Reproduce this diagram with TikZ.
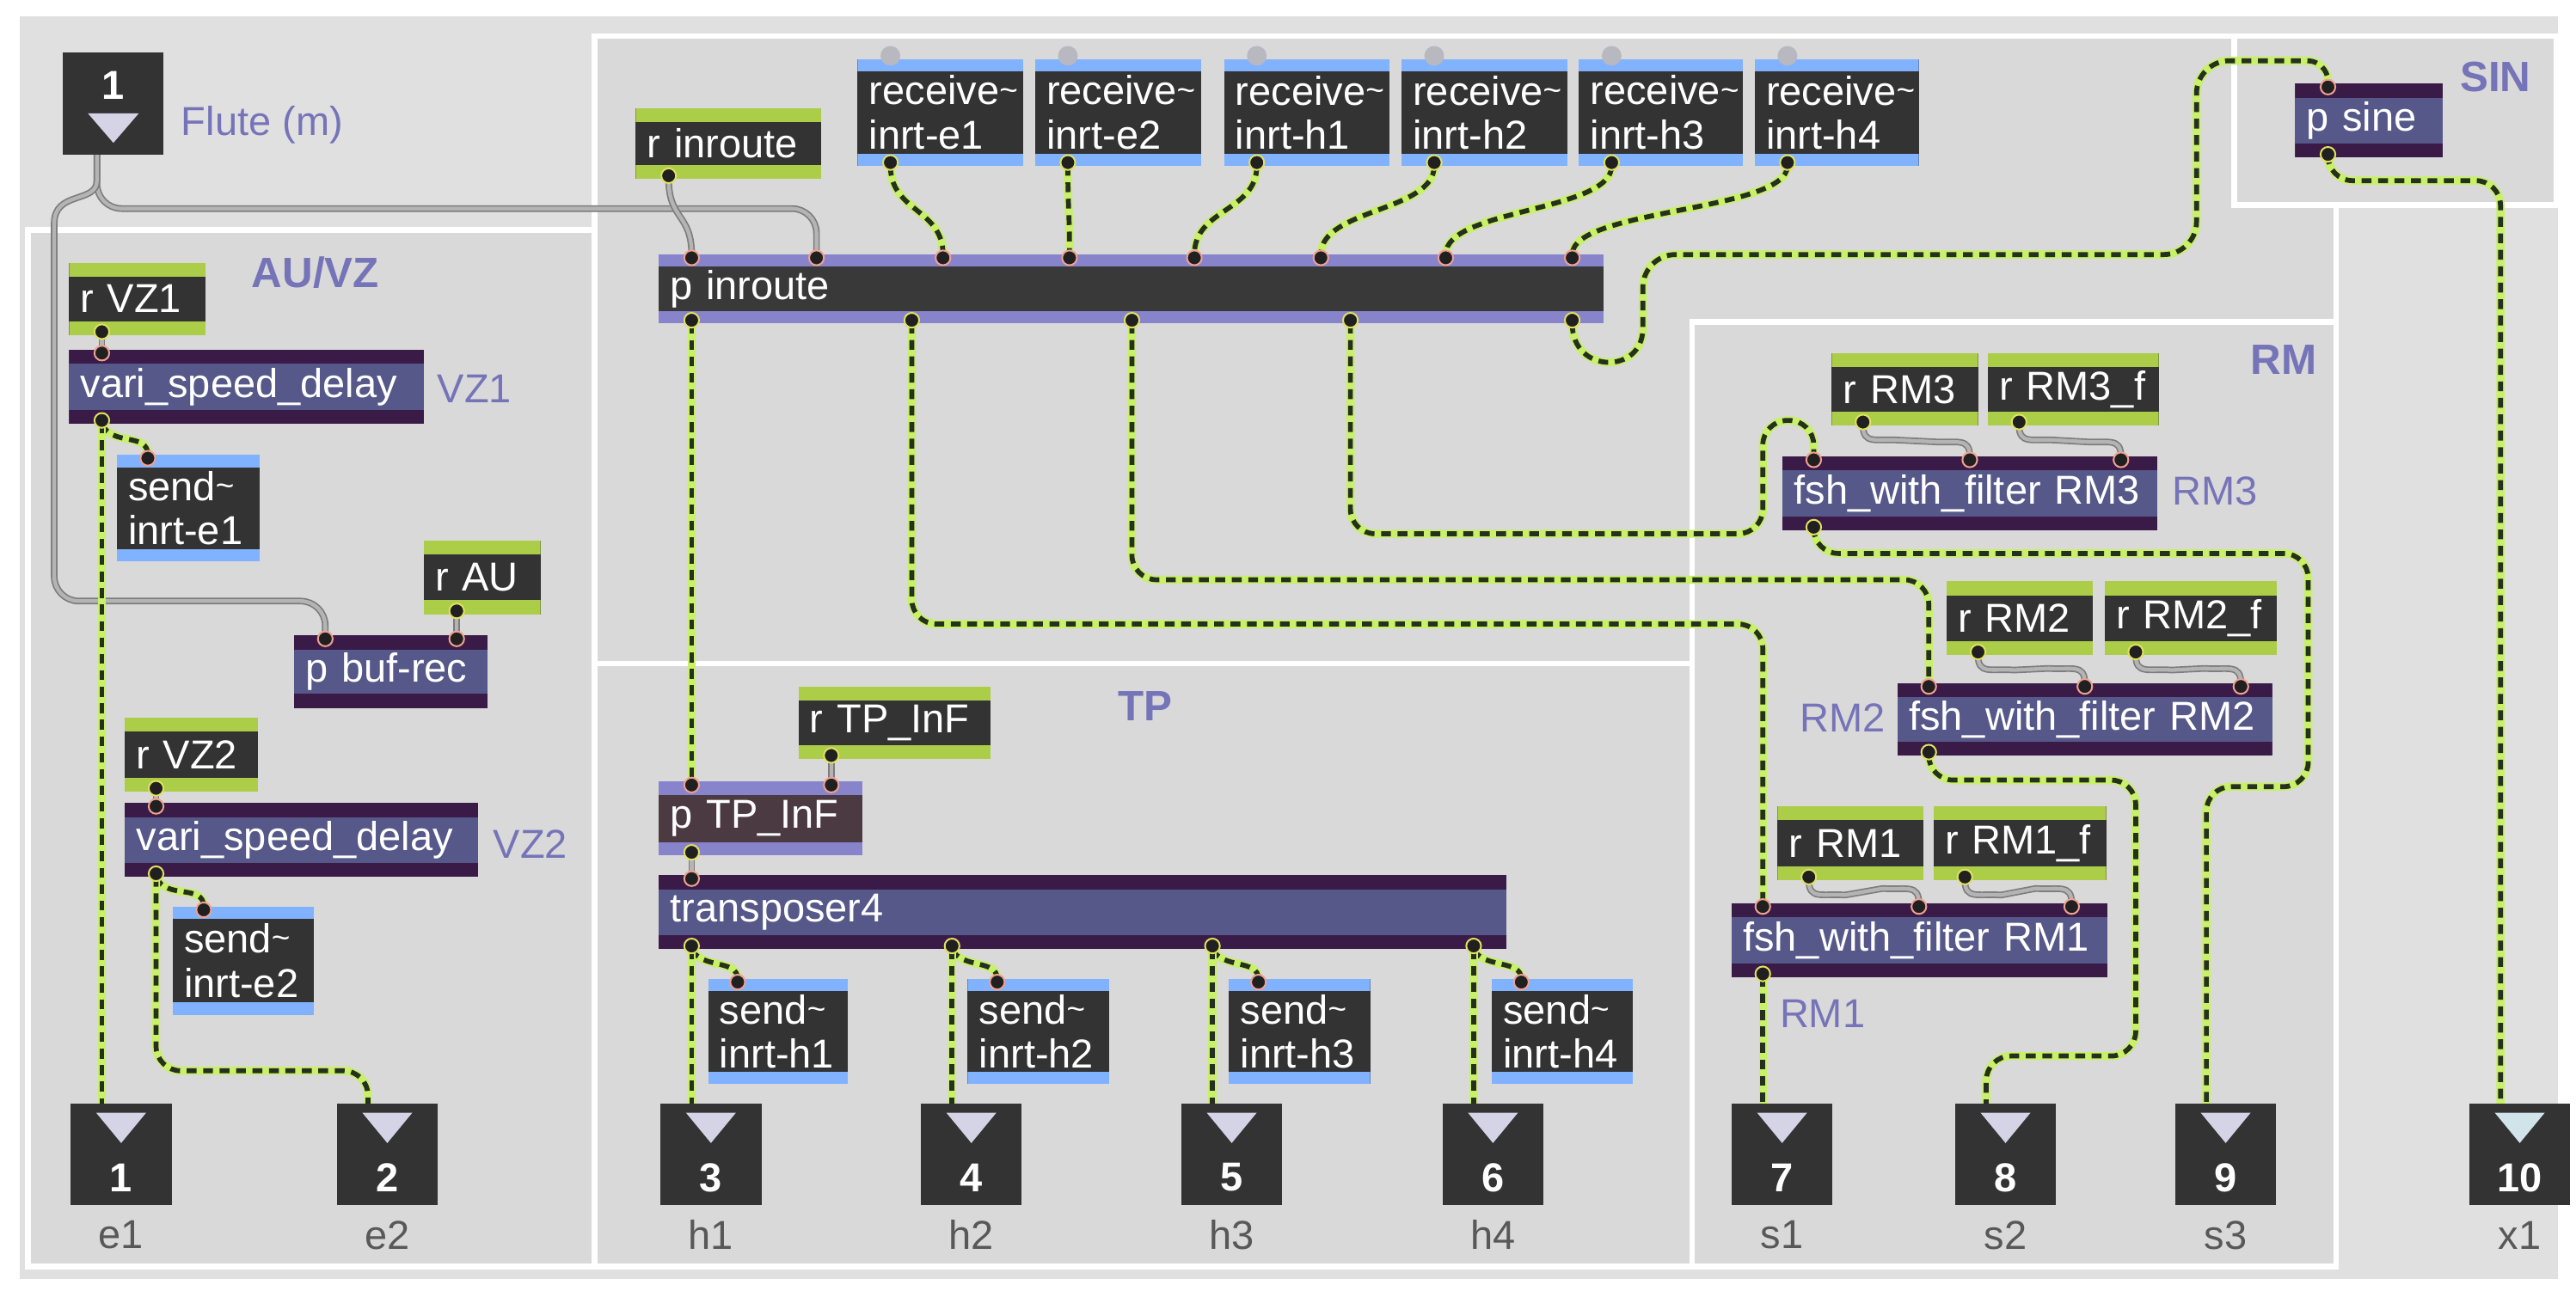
\documentclass[tikz,border=0pt]{standalone}
\usepackage{fontspec}
\setmainfont{Liberation Sans}
\usetikzlibrary{calc}
\pgfdeclarelayer{panels}
\pgfdeclarelayer{cords}
\pgfsetlayers{panels,cords,main}
\definecolor{bgout}{HTML}{E0E0E0}
\definecolor{bgpan}{HTML}{D9D9D9}
\definecolor{objdark}{HTML}{333333}
\definecolor{rgreen}{HTML}{ABCD48}
\definecolor{sblue}{HTML}{80B2FF}
\definecolor{aband}{HTML}{3A1B48}
\definecolor{abody}{HTML}{555888}
\definecolor{pband}{HTML}{8884CC}
\definecolor{pbody}{HTML}{393939}
\definecolor{tpbody}{HTML}{4B3A42}
\definecolor{cmt}{HTML}{7674B8}
\definecolor{lbl}{HTML}{585858}
\definecolor{tri}{HTML}{D4D4E6}
\definecolor{tric}{HTML}{D0E4EA}
\definecolor{sgreen}{HTML}{C8F068}
\definecolor{sdark}{HTML}{26301E}
\definecolor{mgray}{HTML}{B4B4B4}
\definecolor{mgrayd}{HTML}{7C7C7C}
\definecolor{inl}{HTML}{F0A090}
\definecolor{outl}{HTML}{E0E060}
\definecolor{portd}{HTML}{202020}
\definecolor{grayin}{HTML}{B8B8C0}
\tikzset{
 bands/.style 2 args={path picture={
   \fill[#1] (path picture bounding box.north west) rectangle ([yshift=-#2]path picture bounding box.north east);
   \fill[#1] (path picture bounding box.south west) rectangle ([yshift=#2]path picture bounding box.south east);}},
 obj/.style={rectangle, inner xsep=0.14cm, inner ysep=0pt, outer sep=0pt, text=white, align=left},
 rmsg/.style={obj, fill=objdark, bands={rgreen}{0.17cm}},
 sigobj/.style={obj, fill=objdark, bands={sblue}{0.15cm}},
 abst/.style={obj, fill=abody, bands={aband}{0.17cm}},
 pinr/.style={obj, fill=pbody, bands={pband}{0.15cm}},
 ptpf/.style={obj, fill=tpbody, bands={pband}{0.16cm}},
 obox/.style={rectangle, fill=objdark, minimum width=1.23cm, minimum height=1.24cm, inner sep=0pt, outer sep=0pt},
 onum/.style={text=white, font=\bfseries\fontsize{14}{15}\selectfont, inner sep=0pt},
 olbl/.style={text=lbl, inner sep=0pt},
 cmtx/.style={text=cmt, inner sep=0pt},
 ttl/.style={text=cmt, inner sep=0pt, font=\bfseries\fontsize{14.7}{16}\selectfont},
 inmk/.style={circle, inner sep=0pt, minimum size=0.18cm, fill=portd, draw=inl, line width=0.6pt},
 outmk/.style={circle, inner sep=0pt, minimum size=0.18cm, fill=portd, draw=outl, line width=0.6pt},
 gryin/.style={circle, inner sep=0pt, minimum size=0.24cm, fill=grayin},
 sigc/.style={draw=sdark, line width=1.7pt, dash pattern=on 3.4pt off 2.3pt, preaction={draw=sgreen, line width=2.8pt, solid}},
 msgc/.style={draw=mgray, line width=1.3pt, preaction={draw=mgrayd, line width=2.3pt}},
 panel/.style={draw=white, line width=2pt},
}
\newcommand\tld{\raisebox{0.2ex}{\fontsize{11}{11}\selectfont\textasciitilde}}
\newcommand\mobj[7]{%
 \pgfmathsetlengthmacro\mw{#4*0.02cm}%
 \pgfmathsetlengthmacro\mh{#5*0.02cm}%
 \pgfmathsetlengthmacro\mt{(#4-14)*0.02cm}%
 \node[#6, anchor=north west, minimum width=\mw, minimum height=\mh, text width=\mt] (#1) at (#2,#3) {#7};}
\newcommand\ipt[3]{\coordinate (#1) at ($(#2.north west)+(#3,0)$);}
\newcommand\opt[3]{\coordinate (#1) at ($(#2.south west)+(#3,0)$);}
\newcommand\outbox[5]{%
 \node[obox, anchor=north west] (#1) at (#2,672) {};
 \fill[#5] ($(#1.north west)+(15.5,5.5)$) -- ($(#1.north west)+(46,5.5)$) -- ($(#1.north west)+(30.75,24)$) -- cycle;
 \node[onum] (#1-n) at ($(#1.north west)+(30.75,45)$) {#3};
 \node[olbl] (#1-l) at ($(#1.north west)+(30.75,80)$) {#4};
 \coordinate (#1-i) at ($(#1.north west)+(19,0)$);}
\newcommand\gcurv[2]{\draw[msgc] (#1) .. controls ($(#1)+(0,12)$) and ($(#1)+(8,8)$) .. ($(#1)+(22,9)$) -- ($(#2)+(-22,-9)$) .. controls ($(#2)+(-8,-8)$) and ($(#2)+(0,-12)$) .. (#2);}
\newcommand\scurv[3]{\draw[sigc] (#1) .. controls ($(#1)+(0,#3)$) and ($(#2)+(0,-#3)$) .. (#2);}
\begin{document}
\begin{tikzpicture}[x=0.02cm,y=-0.02cm, font=\fontsize{14}{15.3}\selectfont]
\useasboundingbox (0,0) rectangle (1568,786);
\begin{pgfonlayer}{panels}
 \fill[white] (0,0) rectangle (1568,786);
 \fill[bgout] (12,10) rectangle (1557,779);
 \filldraw[fill=bgpan, panel] (362,22) rectangle (1422,404);
 \filldraw[fill=bgpan, panel] (17,140) rectangle (362,771);
 \filldraw[fill=bgpan, panel] (362,404) rectangle (1030,771);
 \filldraw[fill=bgpan, panel] (1030,196) rectangle (1422,771);
 \filldraw[fill=bgpan, panel] (1360,22) rectangle (1556,125);
\end{pgfonlayer}

% ---------- AU/VZ ----------
\node[obox, anchor=north west] (flin) at (38,32) {};
\fill[tri] ($(flin.north west)+(15.5,37)$) -- ($(flin.north west)+(46.5,37)$) -- ($(flin.north west)+(31,55)$) -- cycle;
\node[onum] (flin-n) at ($(flin.north west)+(31,20)$) {1};
\coordinate (flin-o) at ($(flin.south west)+(21,0)$);
\node[cmtx, anchor=west] (flcm) at (110,76) {Flute (m)};
\node[ttl] (tauvz) at (192,166) {AU/VZ};

\mobj{rvz1}{42}{160}{83}{44}{rmsg}{r VZ1}
\opt{rvz1-o}{rvz1}{20}
\mobj{vsd1}{42}{213}{216}{45}{abst}{vari\_speed\_delay}
\ipt{vsd1-i}{vsd1}{20}\opt{vsd1-o}{vsd1}{20}
\node[cmtx, anchor=west] (vz1c) at (266,237) {VZ1};
\mobj{se1}{71}{277}{87}{65}{sigobj}{send\tld\\inrt-e1}
\ipt{se1-i}{se1}{19}
\mobj{rau}{258}{329}{71}{45}{rmsg}{r AU}
\opt{rau-o}{rau}{20}
\mobj{bufrec}{179}{387}{118}{44}{abst}{p buf-rec}
\ipt{bufrec-i1}{bufrec}{19}\ipt{bufrec-i2}{bufrec}{99}
\mobj{rvz2}{76}{437}{81}{45}{rmsg}{r VZ2}
\opt{rvz2-o}{rvz2}{19}
\mobj{vsd2}{76}{489}{215}{45}{abst}{vari\_speed\_delay}
\ipt{vsd2-i}{vsd2}{19}\opt{vsd2-o}{vsd2}{19}
\node[cmtx, anchor=west] (vz2c) at (300,514) {VZ2};
\mobj{se2}{105}{552}{86}{66}{sigobj}{send\tld\\inrt-e2}
\ipt{se2-i}{se2}{19}

% ---------- outlets ----------
\outbox{o1}{43}{1}{e1}{tri}
\outbox{o2}{205}{2}{e2}{tri}
\outbox{o3}{402}{3}{h1}{tri}
\outbox{o4}{560.5}{4}{h2}{tri}
\outbox{o5}{719}{5}{h3}{tri}
\outbox{o6}{878}{6}{h4}{tri}
\outbox{o7}{1054}{7}{s1}{tri}
\outbox{o8}{1190}{8}{s2}{tri}
\outbox{o9}{1324}{9}{s3}{tri}
\outbox{o10}{1503}{10}{x1}{tric}

% ---------- inroute ----------
\mobj{rinr}{387}{66}{113}{43}{rmsg}{r inroute}
\opt{rinr-o}{rinr}{20}
\mobj{rce1}{522}{36}{101}{65}{sigobj}{receive\tld\\inrt-e1}
\mobj{rce2}{630}{36}{101}{65}{sigobj}{receive\tld\\inrt-e2}
\mobj{rch1}{745}{36}{101}{65}{sigobj}{receive\tld\\inrt-h1}
\mobj{rch2}{853}{36}{101}{65}{sigobj}{receive\tld\\inrt-h2}
\mobj{rch3}{961}{36}{100}{65}{sigobj}{receive\tld\\inrt-h3}
\mobj{rch4}{1068}{36}{100}{65}{sigobj}{receive\tld\\inrt-h4}
\foreach \r in {rce1,rce2,rch1,rch2,rch3,rch4}{\opt{\r-o}{\r}{20}
  \node[gryin] (g-\r) at ($(\r.north west)+(20,-2)$) {};}
\mobj{pinr}{401}{155}{575}{42}{pinr}{p inroute}
\ipt{pinr-i1}{pinr}{20}\ipt{pinr-i2}{pinr}{96}\ipt{pinr-i3}{pinr}{173}\ipt{pinr-i4}{pinr}{250}
\ipt{pinr-i5}{pinr}{326}\ipt{pinr-i6}{pinr}{403}\ipt{pinr-i7}{pinr}{479}\ipt{pinr-i8}{pinr}{556}
\opt{pinr-o1}{pinr}{20}\opt{pinr-o2}{pinr}{154}\opt{pinr-o3}{pinr}{288}\opt{pinr-o4}{pinr}{421}\opt{pinr-o5}{pinr}{556}

% ---------- SIN ----------
\mobj{psine}{1397}{51}{90}{45}{abst}{p sine}
\ipt{psine-i}{psine}{20}\opt{psine-o}{psine}{20}
\node[ttl] (tsin) at (1519,47) {SIN};

% ---------- TP ----------
\node[ttl] (ttp) at (697,430) {TP};
\mobj{rtp}{486}{418}{117}{44}{rmsg}{r TP\_InF}
\opt{rtp-o}{rtp}{20}
\mobj{tpf}{401}{476}{124}{45}{ptpf}{p TP\_InF}
\ipt{tpf-i1}{tpf}{20}\ipt{tpf-i2}{tpf}{105}\opt{tpf-o}{tpf}{20}
\mobj{tr4}{401}{533}{516}{45}{abst}{transposer4}
\ipt{tr4-i}{tr4}{20}
\opt{tr4-o1}{tr4}{20}\opt{tr4-o2}{tr4}{178.5}\opt{tr4-o3}{tr4}{337}\opt{tr4-o4}{tr4}{496}
\mobj{sh1}{431}{596}{85}{64}{sigobj}{send\tld\\inrt-h1}
\mobj{sh2}{589}{596}{86}{64}{sigobj}{send\tld\\inrt-h2}
\mobj{sh3}{748}{596}{86}{64}{sigobj}{send\tld\\inrt-h3}
\mobj{sh4}{908}{596}{86}{64}{sigobj}{send\tld\\inrt-h4}
\foreach \s in {sh1,sh2,sh3,sh4}{\ipt{\s-i}{\s}{18}}

% ---------- RM ----------
\node[ttl] (trm) at (1390,219) {RM};
\mobj{rrm3}{1115}{215}{89}{44}{rmsg}{r RM3}
\mobj{rrm3f}{1210}{215}{104}{44}{rmsg}{r RM3\_f}
\mobj{fsh3}{1085}{278}{228}{45}{abst}{fsh\_with\_filter RM3}
\node[cmtx, anchor=west] (rm3c) at (1322,299) {RM3};
\mobj{rrm2}{1185}{354}{89}{45}{rmsg}{r RM2}
\mobj{rrm2f}{1281}{354}{105}{45}{rmsg}{r RM2\_f}
\mobj{fsh2}{1155}{416}{228}{44}{abst}{fsh\_with\_filter RM2}
\node[cmtx, anchor=east] (rm2c) at (1148,437) {RM2};
\mobj{rrm1}{1082}{491}{89}{45}{rmsg}{r RM1}
\mobj{rrm1f}{1177}{491}{105}{45}{rmsg}{r RM1\_f}
\mobj{fsh1}{1054}{550}{229}{45}{abst}{fsh\_with\_filter RM1}
\node[cmtx, anchor=west] (rm1c) at (1083,617) {RM1};
\foreach \r in {rrm3,rrm3f,rrm2,rrm2f,rrm1,rrm1f}{\opt{\r-o}{\r}{19}}
\ipt{fsh3-i1}{fsh3}{19}\ipt{fsh3-i2}{fsh3}{114}\ipt{fsh3-i3}{fsh3}{206}\opt{fsh3-o}{fsh3}{19}
\ipt{fsh2-i1}{fsh2}{19}\ipt{fsh2-i2}{fsh2}{114}\ipt{fsh2-i3}{fsh2}{209}\opt{fsh2-o}{fsh2}{19}
\ipt{fsh1-i1}{fsh1}{19}\ipt{fsh1-i2}{fsh1}{114}\ipt{fsh1-i3}{fsh1}{207}\opt{fsh1-o}{fsh1}{19}

% ---------- cords ----------
\begin{pgfonlayer}{cords}
 \draw[msgc, rounded corners=0.3cm] (flin-o) -- (59,127) -- (497,127) -- (pinr-i2);
 \draw[msgc] (flin-o) -- (59,110) .. controls (59,124) and (33,116) .. (33,136) [rounded corners=0.3cm] -- (33,366) -- (198,366) -- (bufrec-i1);
 \draw[msgc] (rinr-o) .. controls ($(rinr-o)+(0,25)$) and ($(pinr-i1)+(0,-25)$) .. (pinr-i1);
 \draw[msgc] (rvz1-o) -- (vsd1-i);
 \draw[msgc] (rau-o) -- (bufrec-i2);
 \draw[msgc] (rvz2-o) -- (vsd2-i);
 \draw[msgc] (rtp-o) -- (tpf-i2);
 \draw[msgc] (tpf-o) -- (tr4-i);
 \gcurv{rrm3-o}{fsh3-i2}\gcurv{rrm3f-o}{fsh3-i3}
 \gcurv{rrm2-o}{fsh2-i2}\gcurv{rrm2f-o}{fsh2-i3}
 \gcurv{rrm1-o}{fsh1-i2}\gcurv{rrm1f-o}{fsh1-i3}
 % signal
 \draw[sigc] (vsd1-o) .. controls ($(vsd1-o)+(6,14)$) and ($(se1-i)+(0,-14)$) .. (se1-i);
 \draw[sigc] (vsd1-o) -- (o1-i);
 \draw[sigc] (vsd2-o) .. controls ($(vsd2-o)+(6,14)$) and ($(se2-i)+(0,-14)$) .. (se2-i);
 \draw[sigc, rounded corners=0.3cm] (vsd2-o) -- (95,652) -- (224,652) -- (o2-i);
 \scurv{rce1-o}{pinr-i3}{28}\scurv{rce2-o}{pinr-i4}{28}\scurv{rch1-o}{pinr-i5}{28}
 \scurv{rch2-o}{pinr-i6}{28}\scurv{rch3-o}{pinr-i7}{28}\scurv{rch4-o}{pinr-i8}{28}
 \draw[sigc] (pinr-o1) -- (tpf-i1);
 \draw[sigc, rounded corners=0.3cm] (pinr-o2) -- (555,380) -- (1073,380) -- (fsh1-i1);
 \draw[sigc, rounded corners=0.3cm] (pinr-o3) -- (689,353) -- (1174,353) -- (fsh2-i1);
 \draw[sigc, rounded corners=0.3cm] (pinr-o4) -- (822,325) -- (1073,325) -- (1073,256) -- (1104,256) -- (fsh3-i1);
 \draw[sigc] (pinr-o5) .. controls (957,228) and (1000,228) .. (1000,200) [rounded corners=0.4cm] -- (1000,155) -- (1337,155) -- (1337,37) [rounded corners=0.25cm] -- (1417,37) -- (psine-i);
 \draw[sigc, rounded corners=0.3cm] (psine-o) -- (1417,110) -- (1522,110) -- (o10-i);
 \foreach \k/\o in {1/o3,2/o4,3/o5,4/o6}{
   \draw[sigc] (tr4-o\k) .. controls ($(tr4-o\k)+(6,12)$) and ($(sh\k-i)+(0,-12)$) .. (sh\k-i);
   \draw[sigc] (tr4-o\k) -- (\o-i);}
 \draw[sigc] (fsh1-o) -- (o7-i);
 \draw[sigc, rounded corners=0.3cm] (fsh2-o) -- (1174,475) -- (1300,475) -- (1300,643) -- (1209,643) -- (o8-i);
 \draw[sigc, rounded corners=0.3cm] (fsh3-o) -- (1104,337) -- (1405,337) -- (1405,479) -- (1343,479) -- (o9-i);
\end{pgfonlayer}

% ---------- port markers ----------
\foreach \p in {vsd1-i,se1-i,bufrec-i1,bufrec-i2,vsd2-i,se2-i,pinr-i1,pinr-i2,pinr-i3,pinr-i4,pinr-i5,pinr-i6,pinr-i7,pinr-i8,tpf-i1,tpf-i2,tr4-i,sh1-i,sh2-i,sh3-i,sh4-i,fsh3-i1,fsh3-i2,fsh3-i3,fsh2-i1,fsh2-i2,fsh2-i3,fsh1-i1,fsh1-i2,fsh1-i3,psine-i}
  {\node[inmk] (mk-\p) at ($(\p)+(0,2)$) {};}
\foreach \p in {rvz1-o,vsd1-o,rau-o,rvz2-o,vsd2-o,rinr-o,rce1-o,rce2-o,rch1-o,rch2-o,rch3-o,rch4-o,pinr-o1,pinr-o2,pinr-o3,pinr-o4,pinr-o5,rtp-o,tpf-o,tr4-o1,tr4-o2,tr4-o3,tr4-o4,rrm3-o,rrm3f-o,fsh3-o,rrm2-o,rrm2f-o,fsh2-o,rrm1-o,rrm1f-o,fsh1-o,psine-o}
  {\node[outmk] (mk-\p) at ($(\p)+(0,-2)$) {};}
\end{tikzpicture}
\end{document}
